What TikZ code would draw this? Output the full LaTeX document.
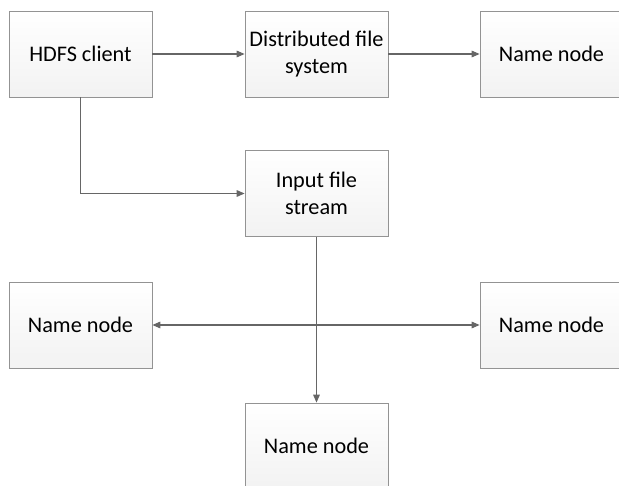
\documentclass[tikz,border=0pt]{standalone}
\usepackage{fontspec}
\setmainfont{Carlito}
\usepackage{tikz}
\usetikzlibrary{arrows.meta}

\tikzset{
  blockbox/.style={rectangle, draw=gray!85, line width=0.6pt,
    top color=white, bottom color=gray!10,
    minimum width=107.25pt, minimum height=64.5pt,
    align=center, inner sep=2pt,
    font=\fontsize{16.7pt}{20.25pt}\selectfont},
  link/.style={draw=black!60, line width=0.8pt,
    -{Triangle[length=6pt,width=5pt]}}
}

\begin{document}
\begin{tikzpicture}[x=0.75pt,y=-0.75pt]

        \useasboundingbox (0,0) rectangle (619,486);
        \clip (0,0) rectangle (619,486);

        \begin{scope}[every node/.style={blockbox}]
          \node (client) at (80.5,54)   {HDFS client};
          \node (dfs)    at (316.5,54)  {Distributed file\\system};
          \node (nn1)    at (551.5,54)  {Name node};
          \node (input)  at (316.5,193.5) {Input file\\stream};
          \node (nn2)    at (80.5,325)  {Name node};
          \node (nn3)    at (551.5,325) {Name node};
          \node (nn4)    at (316.5,446) {Name node};
        \end{scope}

        \coordinate (cross) at (input.south |- nn2.east);

        \begin{scope}[every path/.style={link}]
          \path (client) -- (dfs);
          \path (dfs)    -- (nn1);
          \path (client.south) |- (input.west);
          \path (input.south) -- (nn4.north);
          \path (cross) -- (nn2.east);
          \path (cross) -- (nn3.west);
        \end{scope}

      \end{tikzpicture}
\end{document}
